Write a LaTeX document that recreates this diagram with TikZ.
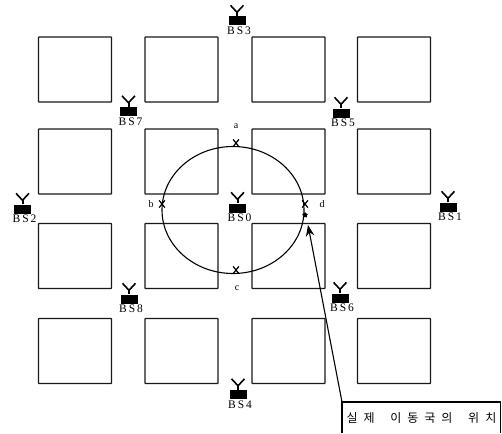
\documentclass[tikz,border=0pt]{standalone}
\usepackage{fontspec}
\setmainfont{Liberation Serif}
\newfontfamily\krfont[LetterSpace=50]{Noto Sans CJK KR}
\usetikzlibrary{arrows.meta, positioning, shapes.misc, shapes.geometric}

\begin{document}
\begin{tikzpicture}[
		x=1pt, y=-1pt,
		% --- estilos ---
		cell/.style = {draw=black!90, line width=1.1pt, rectangle, inner sep=0pt, minimum width=73pt, minimum height=65pt, rounded corners=0.5pt},
		bs_block/.style = {fill=black, rectangle, inner sep=0pt, minimum width=17pt, minimum height=9pt},
		bs_label/.style = {inner sep=0pt, xshift=2pt, font=\fontsize{11.5}{12}\selectfont},
		point_label/.style = {inner sep=0pt, font=\fontsize{10}{11}\selectfont},
		mark_x/.style = {cross out, draw=black, line width=1.2pt, inner sep=0pt, minimum width=4.5pt, minimum height=6pt},
		real_box/.style = {anchor=north west, inner sep=0pt, minimum width=158.5pt, minimum height=31pt, font=\krfont\fontsize{12}{13}\selectfont},
		>={Stealth[scale=1.4]}
		]
		\useasboundingbox (0,0) rectangle (502,433);
		
		% celdas
		\foreach \cx [count=\c] in {75,181.5,288.5,394} {
			\foreach \cy [count=\r] in {69.5,161.5,256,351} {
				\node [cell] (cell\r\c) at (\cx,\cy) {};
			}
		}
		
		% estaciones base
		\foreach \name/\bx/\by in {0/237.5/208, 1/448/207, 2/22.5/209, 3/237/21, 4/238/394.5, 5/341/113, 6/340/298, 7/128.5/111.5, 8/129/299} {
			\node [bs_block] (bs\name) at (\bx,\by) {};
			\draw [line width=2pt] (bs\name.north) -- ++(0,-4) coordinate (fork\name);
			\draw [line width=1.6pt] ([xshift=-6.5pt,yshift=7pt]fork\name) -- (fork\name) -- ([xshift=6.5pt,yshift=7pt]fork\name);
			\node [bs_label, below=1pt of bs\name] (label\name) {B\,S\,\name};
		}
		
		% circulo
		\node [draw, ellipse, line width=1.1pt, minimum width=142pt, minimum height=127pt, inner sep=0pt] (range) at (233,210) {};
		
		% puntos a, b, c, d
		\node [mark_x] (pa) at (236,143) {};
		\node [mark_x] (pb) at (162,204) {};
		\node [mark_x] (pc) at (236,270) {};
		\node [mark_x] (pd) at (305,204) {};
		\node [point_label] (la) at (236,126) {a};
		\node [point_label] (lb) at (151,204) {b};
		\node [point_label] (lc) at (237,288) {c};
		\node [point_label] (ld) at (322,204) {d};
		\node [fill=black, star, star points=5, inner sep=0pt, minimum size=6pt] (ps) at (305,215) {};
		
		% posicion real
		\coordinate (actual) at (308,225);
		\node [real_box] (actual_label) at (342,402) {실제\hspace{7pt} 이동국의\hspace{7pt} 위치};
		\draw [line width=1.1pt] (actual_label.south west) |- (actual_label.north east) -- (actual_label.south east);
		\draw [->, line width=1.1pt] (actual_label.north west) -- (actual);
		
	\end{tikzpicture}
\end{document}
